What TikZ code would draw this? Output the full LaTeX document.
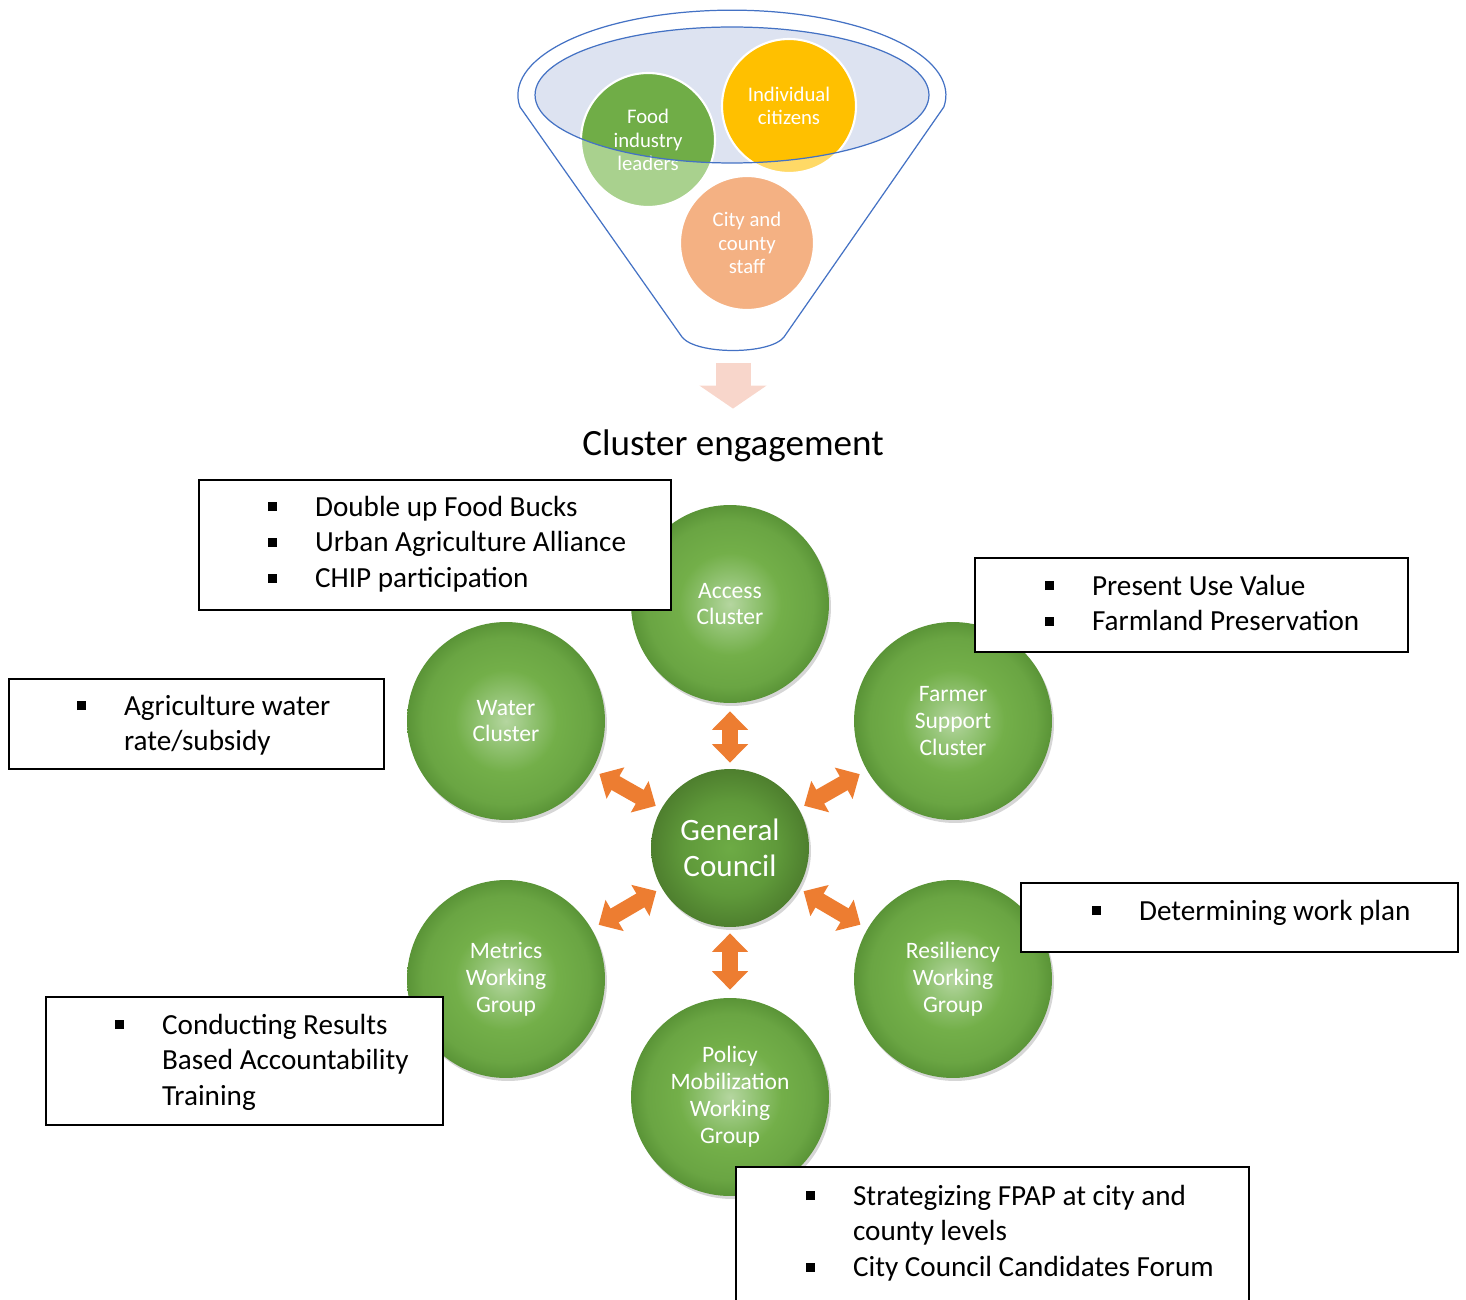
\documentclass[tikz,border=0pt]{standalone}
\usepackage{fontspec}
\setmainfont{Carlito}
\usepackage{tikz}
\usetikzlibrary{arrows.meta,shadows}

\definecolor{funnelblue}{HTML}{4472C4}
\definecolor{mouthfill}{HTML}{DDE3F1}
\definecolor{foodgreen}{HTML}{70AD47}
\definecolor{foodlight}{HTML}{A9D18E}
\definecolor{citgold}{HTML}{FFC000}
\definecolor{citlight}{HTML}{FFD966}
\definecolor{staffpeach}{HTML}{F4B183}
\definecolor{flowpink}{HTML}{F8D6CB}
\definecolor{linkorange}{HTML}{ED7D31}
\definecolor{ballcore}{HTML}{B5D6A0}
\definecolor{ballsoft}{HTML}{94C476}
\definecolor{ballmid}{HTML}{73AF49}
\definecolor{ballrim}{HTML}{6AA543}
\definecolor{balledge}{HTML}{5A9437}
\definecolor{councore}{HTML}{6DAB45}
\definecolor{counmid}{HTML}{5F993A}
\definecolor{counedge}{HTML}{4E7F2E}

\pgfdeclareradialshading{clusterball}{\pgfpoint{0bp}{0bp}}{%
  color(0bp)=(ballcore); color(6bp)=(ballsoft); color(13bp)=(ballmid);
  color(21bp)=(ballrim); color(25bp)=(balledge); color(50bp)=(balledge)}
\pgfdeclareradialshading{councilball}{\pgfpoint{0bp}{0bp}}{%
  color(0bp)=(councore); color(15bp)=(counmid); color(25bp)=(counedge);
  color(50bp)=(counedge)}

% square bullet of the note lists
\newcommand{\sq}{\makebox[26.6pt][l]{\rule[2.8pt]{5pt}{5pt}}}

\tikzstyle{funnel} = [draw=funnelblue, line width=0.7pt]
\tikzstyle{seed} = [circle, draw=white, line width=1.2pt, minimum size=2.68cm,
    inner sep=0pt, align=center, text=white,
    font=\fontsize{11.8}{13.3}\selectfont]
\tikzstyle{cluster} = [circle, minimum size=3.96cm, inner sep=0pt,
    align=center, text=white, shading=clusterball,
    drop shadow={shadow xshift=0.04cm, shadow yshift=-0.06cm,
        opacity=0.16, fill=black},
    font=\fontsize{13.4}{15.3}\selectfont]
\tikzstyle{council} = [cluster, minimum size=3.16cm, shading=councilball,
    font=\fontsize{17.7}{20.8}\selectfont]
\tikzstyle{link} = [draw=linkorange, line width=0.32cm,
    {Triangle[width=0.7cm,length=0.37cm]}-{Triangle[width=0.7cm,length=0.37cm]},
    shorten <=0.12cm, shorten >=0.16cm]
\tikzstyle{flow} = [draw=flowpink, line width=0.7cm,
    -{Triangle[width=1.32cm,length=0.46cm]},
    shorten <=0.22cm, shorten >=0.42cm]
\tikzstyle{title} = [inner sep=0pt, font=\fontsize{21.1}{25}\selectfont]
\tikzstyle{notebox} = [draw, line width=1.1pt, fill=white, rectangle,
    anchor=north west, inner sep=0pt]
\tikzstyle{notetext} = [anchor=base west, inner sep=0pt,
    font=\fontsize{16.6}{20.4}\selectfont]

\begin{document}
\begin{tikzpicture}[x=0.02cm, y=-0.02cm]
    \useasboundingbox (0,0) rectangle (1466,1300);

    % Funnel
    \coordinate (funnelmouth) at (732,95);
    \coordinate (funnelbot) at (733,352);
    \draw [funnel] (520,107) arc [start angle=172, end angle=368,
        x radius=214, y radius=85] -- (784,337)
        .. controls (770,355) and (696,355) .. (682,337) -- cycle;
    \fill [mouthfill] (funnelmouth) ellipse [x radius=3.94cm, y radius=1.36cm];

    % What goes into the funnel
    \node [seed, fill=foodlight, path picture={\fill [foodgreen] (funnelmouth)
        ellipse [x radius=3.94cm, y radius=1.36cm];}] (food) at (648,140)
        {Food\\industry\\leaders};
    \node [seed, fill=citlight, path picture={\fill [citgold] (funnelmouth)
        ellipse [x radius=3.94cm, y radius=1.36cm];}] (citizens) at (789,106)
        {Individual\\citizens};
    \node [seed, fill=staffpeach] (staff) at (747,243) {City and\\county\\staff};
    \draw [funnel] (funnelmouth) ellipse [x radius=3.94cm, y radius=1.36cm];

    % Title
    \node [title] (engage) at (733,446) {Cluster engagement};
    \draw [flow] (funnelbot) -- (engage);

    % Clusters around the council
    \node [cluster] (access) at (730,604) {Access\\Cluster};
    \node [cluster] (water) at (506,721) {Water\\Cluster};
    \node [cluster] (farmer) at (953,721) {Farmer\\Support\\Cluster};
    \node [cluster] (metrics) at (506,979) {Metrics\\Working\\Group};
    \node [cluster] (resil) at (953,979) {Resiliency\\Working\\Group};
    \node [cluster] (policy) at (730,1097) {Policy\\Mobilization\\Working\\Group};
    \node [council] (council) at (730,848) {General\\Council};

    % Two-way links
    \draw [link] (council) -- (access);
    \draw [link] (council) -- (water);
    \draw [link] (council) -- (farmer);
    \draw [link] (council) -- (metrics);
    \draw [link] (council) -- (resil);
    \draw [link] (council) -- (policy);

    % Notes
    \node [notebox, minimum width=9.44cm, minimum height=2.6cm] (accessnote) at (198,479) {};
    \node [notetext] (accesslist) at (268,516) {\begin{tabular}[t]{@{}l@{}l@{}}
        \sq & Double up Food Bucks\\
        \sq & Urban Agriculture Alliance\\
        \sq & CHIP participation
    \end{tabular}};

    \node [notebox, minimum width=8.66cm, minimum height=1.88cm] (farmernote) at (974,557) {};
    \node [notetext] (farmerlist) at (1045,595) {\begin{tabular}[t]{@{}l@{}l@{}}
        \sq & Present Use Value\\
        \sq & Farmland Preservation
    \end{tabular}};

    \node [notebox, minimum width=7.5cm, minimum height=1.8cm] (waternote) at (8,678) {};
    \node [notetext] (waterlist) at (77,715) {\begin{tabular}[t]{@{}l@{}l@{}}
        \sq & Agriculture water\\
            & rate/subsidy
    \end{tabular}};

    \node [notebox, minimum width=8.74cm, minimum height=1.38cm] (resilnote) at (1020,882) {};
    \node [notetext] (resillist) at (1092,920) {\begin{tabular}[t]{@{}l@{}l@{}}
        \sq & Determining work plan
    \end{tabular}};

    \node [notebox, minimum width=7.94cm, minimum height=2.56cm] (metricsnote) at (45,996) {};
    \node [notetext] (metricslist) at (115,1034) {\begin{tabular}[t]{@{}l@{}l@{}}
        \sq & Conducting Results\\
            & Based Accountability\\
            & Training
    \end{tabular}};

    \node [notebox, minimum width=10.26cm, minimum height=3.2cm] (policynote) at (735,1166) {};
    \node [notetext] (policylist) at (806,1205) {\begin{tabular}[t]{@{}l@{}l@{}}
        \sq & Strategizing FPAP at city and\\
            & county levels\\
        \sq & City Council Candidates Forum
    \end{tabular}};
\end{tikzpicture}
\end{document}
